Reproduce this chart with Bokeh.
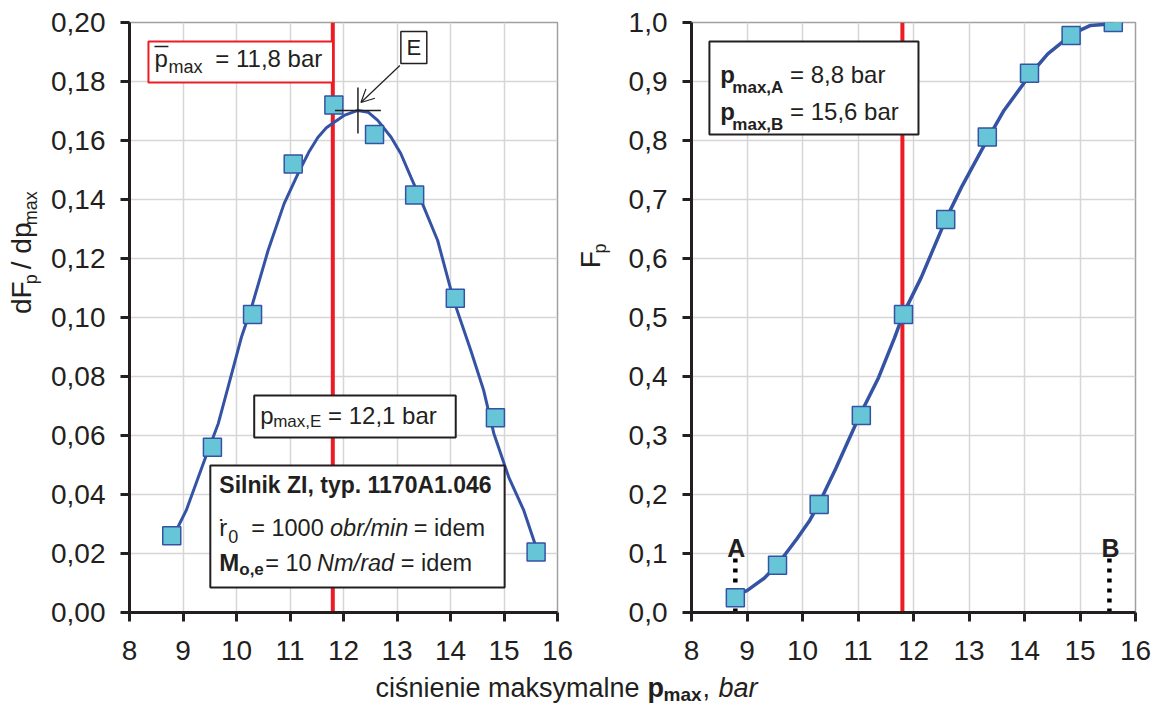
import math
from bokeh.plotting import figure
from bokeh.models import Range1d, FixedTicker, Label, Arrow, OpenHead
from bokeh.layouts import row, column
from bokeh.embed import file_html
from bokeh.resources import INLINE

# ---------------- data ----------------
p_max = [8.79, 9.55, 10.30, 11.06, 11.82, 12.58, 13.33, 14.09, 14.84, 15.60]
density = [0.026, 0.056, 0.101, 0.152, 0.172, 0.162, 0.1415, 0.1065, 0.066, 0.0205]
cumulative = [0.025, 0.080, 0.183, 0.334, 0.505, 0.666, 0.806, 0.914, 0.978, 1.000]

fit_density_x = [8.78, 9.06, 9.40, 9.66, 9.86, 9.96, 10.09, 10.28, 10.41, 10.59, 10.89,
                 11.15, 11.35, 11.52, 11.68, 11.82, 12.01, 12.27, 12.46, 12.64, 12.89, 13.07,
                 13.26, 13.45, 13.76, 14.06, 14.38, 14.62, 14.81, 15.09, 15.37, 15.59]
fit_density_y = [0.0244, 0.0346, 0.0515, 0.0641, 0.0776, 0.0844, 0.0932, 0.1034, 0.1115,
                 0.1227, 0.1386, 0.1488, 0.1560, 0.1610, 0.1643, 0.1661, 0.1685, 0.1702,
                 0.1696, 0.1668, 0.1611, 0.1556, 0.1476, 0.1397, 0.1261, 0.1058, 0.0888,
                 0.0753, 0.0607, 0.0458, 0.0346, 0.0227]

fit_cum_x = [8.79, 9.00, 9.31, 9.54, 9.90, 10.13, 10.30, 10.60, 11.03, 11.37, 11.66, 11.82,
             12.14, 12.59, 12.86, 13.35, 13.63, 14.12, 14.42, 14.87, 15.19, 15.60]
fit_cum_y = [0.029, 0.037, 0.058, 0.080, 0.125, 0.156, 0.185, 0.244, 0.334, 0.398, 0.466,
             0.507, 0.568, 0.668, 0.720, 0.805, 0.851, 0.914, 0.947, 0.981, 0.995, 0.998]

p_mean = 11.8              # mean pressure (red line)
E_x, E_y = 12.27, 0.1702   # maximum of the density curve (point E)
p_A, p_B = 8.79, 15.53     # limits A and B

x_ticks = [8, 9, 10, 11, 12, 13, 14, 15, 16]
x_tick_labels = ["8", "9", "10", "11", "12", "13", "14", "15", "16"]
y1_ticks = [0.0, 0.02, 0.04, 0.06, 0.08, 0.1, 0.12, 0.14, 0.16, 0.18, 0.2]
y1_tick_labels = ["0,00", "0,02", "0,04", "0,06", "0,08", "0,10", "0,12", "0,14",
                  "0,16", "0,18", "0,20"]
y2_ticks = [0.0, 0.1, 0.2, 0.3, 0.4, 0.5, 0.6, 0.7, 0.8, 0.9, 1.0]
y2_tick_labels = ["0,0", "0,1", "0,2", "0,3", "0,4", "0,5", "0,6", "0,7", "0,8", "0,9", "1,0"]

# ---------------- style ----------------
TXT = "#231f20"
RED = "#ed1c24"
BLUE = "#3553a4"
FILL = "#66c6d7"
GRID = "#d6d6d6"
FRAME = "#a0a0a0"
FONT = "Liberation Sans"
K = 0.37   # baseline correction (fraction of font size)

# page geometry (pixels)
L_LEFT, L_RIGHT = 128, 557
R_LEFT, R_RIGHT = 689, 1135
TOP, BOTTOM = 22, 612
H_MAIN = 672
XA0, XA1 = 0, 48        # left y-title strip
XL1 = 575               # end of left panel canvas
XB1 = 625               # end of right y-title strip
W_TOTAL = 1161


class Conv:
    def __init__(self, fx, fy):
        self.fx, self.fy = fx, fy


LEFTC = Conv(lambda px: 8 + (px - L_LEFT) * 8.0 / (L_RIGHT - L_LEFT),
             lambda py: (BOTTOM - py) * 0.2 / (BOTTOM - TOP))
RIGHTC = Conv(lambda px: 8 + (px - R_LEFT) * 8.0 / (R_RIGHT - R_LEFT),
              lambda py: (BOTTOM - py) * 1.0 / (BOTTOM - TOP))
PIX = Conv(lambda px: px, lambda py: py)


def lab(p, c, px, py, s, size, style="normal", align="left", rotated=False):
    """px, py: page pixel position of the text start / baseline."""
    if rotated:
        x, y, ang = px - K * size, py, math.pi / 2
    else:
        x, y, ang = px, py - K * size, 0.0
    p.add_layout(Label(x=c.fx(x), y=c.fy(y), text=s, text_font=FONT,
                       text_font_size=f"{size}px", text_font_style=style, text_color=TXT,
                       text_align=align, text_baseline="alphabetic", angle=ang))


def make_panel(width, border_left, border_right, y_end, yt, ytl):
    p = figure(width=width, height=H_MAIN, x_range=Range1d(8, 16), y_range=Range1d(0, y_end),
               output_backend="svg", toolbar_location=None,
               min_border_left=border_left, min_border_right=border_right,
               min_border_top=TOP, min_border_bottom=H_MAIN - BOTTOM)
    p.background_fill_color = "white"
    p.border_fill_color = "white"
    p.outline_line_color = FRAME
    p.outline_line_width = 1.5
    p.xaxis.ticker = FixedTicker(ticks=x_ticks)
    p.xaxis.major_label_overrides = dict(zip(x_ticks, x_tick_labels))
    p.yaxis.ticker = FixedTicker(ticks=yt)
    p.yaxis.major_label_overrides = dict(zip(yt, ytl))
    p.xgrid.ticker = FixedTicker(ticks=x_ticks)
    p.ygrid.ticker = FixedTicker(ticks=yt)
    for g in (p.xgrid, p.ygrid):
        g.grid_line_color = GRID
        g.grid_line_width = 1.5
    for ax in (p.xaxis, p.yaxis):
        ax.axis_line_color = TXT
        ax.axis_line_width = 3
        ax.major_tick_line_color = TXT
        ax.major_tick_line_width = 3
        ax.major_tick_in = 0
        ax.major_tick_out = 9
        ax.minor_tick_line_color = None
        ax.major_label_text_font = FONT
        ax.major_label_text_font_size = "28px"
        ax.major_label_text_color = TXT
    p.xaxis.major_label_standoff = 19
    p.yaxis.major_label_standoff = 15
    return p


def strip(x0, x1, height, y_top, y_bottom):
    f = figure(width=x1 - x0, height=height, x_range=Range1d(x0, x1),
               y_range=Range1d(y_bottom, y_top), output_backend="svg",
               toolbar_location=None, min_border=0, x_axis_type=None, y_axis_type=None)
    f.grid.visible = False
    f.outline_line_color = None
    f.background_fill_color = "white"
    f.border_fill_color = "white"
    return f


# ---------------- left panel: density ----------------
left = make_panel(XL1 - XA1, L_LEFT - XA1, XL1 - L_RIGHT, 0.2, y1_ticks, y1_tick_labels)
LX, LY = LEFTC.fx, LEFTC.fy
left.segment(x0=[p_mean], y0=[0], x1=[p_mean], y1=[0.2], line_color=RED, line_width=4)
left.line(fit_density_x, fit_density_y, line_color=BLUE, line_width=3)
left.scatter(p_max, density, marker="square", size=18, fill_color=FILL,
             line_color=BLUE, line_width=1.5)

# boxes
left.quad(left=[LX(147)], right=[LX(332)], top=[LY(41)], bottom=[LY(82)],
          fill_color="white", line_color=RED, line_width=2)
left.quad(left=[LX(400), LX(253), LX(209)], right=[LX(426), LX(455), LX(504)],
          top=[LY(31), LY(395), LY(465)], bottom=[LY(63), LY(437), LY(587)],
          fill_color="white", line_color=TXT, line_width=[1.5, 2, 2])

# E cross and arrow
hx = 23 * 8.0 / (L_RIGHT - L_LEFT)
hy = 23 * 0.2 / (BOTTOM - TOP)
left.segment(x0=[E_x - hx, E_x], y0=[E_y, E_y - hy], x1=[E_x + hx, E_x], y1=[E_y, E_y + hy],
             line_color=TXT, line_width=1.5)
left.add_layout(Arrow(end=OpenHead(size=13, line_width=1.2, line_color=TXT),
                      x_start=LX(399), y_start=LY(65), x_end=LX(360), y_end=LY(102),
                      line_width=1.2, line_color=TXT))
lab(left, LEFTC, 413, 55, "E", 22, align="center")

# mean label (p with overline)
lab(left, LEFTC, 153, 67, "p", 24)
left.segment(x0=[LX(153)], y0=[LY(46)], x1=[LX(167)], y1=[LY(46)], line_color=TXT,
             line_width=1.5)
lab(left, LEFTC, 167, 73, "max", 18)
lab(left, LEFTC, 214, 67, "= 11,8 bar", 24)

# p_max,E label
lab(left, LEFTC, 259, 424, "p", 24)
lab(left, LEFTC, 272, 427, "max,E", 17)
lab(left, LEFTC, 327, 424, "= 12,1 bar", 24)

# engine box
lab(left, LEFTC, 218, 493, "Silnik ZI, typ. 1170A1.046", 23, style="bold")
lab(left, LEFTC, 218, 536, "r", 24)
lab(left, LEFTC, 221, 536, "\u02d9", 24, align="center")
lab(left, LEFTC, 227, 543, "0", 18)
lab(left, LEFTC, 250, 536, "= 1000", 23.5)
lab(left, LEFTC, 329, 536, "obr/min", 23.5, style="italic")
lab(left, LEFTC, 413, 536, "= idem", 23.5)
lab(left, LEFTC, 218, 571, "M", 24, style="bold")
lab(left, LEFTC, 238, 575, "o,e", 17, style="bold")
lab(left, LEFTC, 264, 571, "= 10", 23.5)
lab(left, LEFTC, 316, 571, "Nm/rad", 23.5, style="italic")
lab(left, LEFTC, 400, 571, "= idem", 23.5)

# ---------------- left y title strip ----------------
ya = strip(XA0, XA1, H_MAIN, 0, H_MAIN)
lab(ya, PIX, 31, 332, "dF", 28, rotated=True)
lab(ya, PIX, 37, 298, "p", 18, rotated=True)
lab(ya, PIX, 31, 281, "/ dp", 28, rotated=True)
lab(ya, PIX, 37, 231, "max", 18, rotated=True)

# ---------------- right y title strip ----------------
yb = strip(XL1, XB1, H_MAIN, 0, H_MAIN)
lab(yb, PIX, 600, 280, "F", 28, rotated=True)
lab(yb, PIX, 606, 263, "p", 18, rotated=True)

# ---------------- right panel: cumulative ----------------
right = make_panel(W_TOTAL - XB1, R_LEFT - XB1, W_TOTAL - R_RIGHT, 1.0, y2_ticks, y2_tick_labels)
RX, RY = RIGHTC.fx, RIGHTC.fy
right.segment(x0=[p_mean], y0=[0], x1=[p_mean], y1=[1.0], line_color=RED, line_width=4)
right.segment(x0=[p_A, p_B], y0=[0, 0], x1=[p_A, p_B], y1=[RY(558), RY(558)],
              line_color="black", line_width=4.5, line_dash="4 6")
right.line(fit_cum_x, fit_cum_y, line_color=BLUE, line_width=3.5)
right.scatter(p_max, cumulative, marker="square", size=18, fill_color=FILL,
              line_color=BLUE, line_width=1.5)

right.quad(left=[RX(707)], right=[RX(917)], top=[RY(41)], bottom=[RY(134)],
           fill_color="white", line_color=TXT, line_width=2)
lab(right, RIGHTC, 718, 83, "p", 24, style="bold")
lab(right, RIGHTC, 730, 93, "max,A", 17, style="bold")
lab(right, RIGHTC, 788, 83, "= 8,8 bar", 24)
lab(right, RIGHTC, 718, 120, "p", 24, style="bold")
lab(right, RIGHTC, 730, 130, "max,B", 17, style="bold")
lab(right, RIGHTC, 788, 120, "= 15,6 bar", 24)

lab(right, RIGHTC, 734, 557, "A", 25, style="bold", align="center")
lab(right, RIGHTC, 1110, 557, "B", 25, style="bold", align="center")

# ---------------- common x axis title ----------------
bot = strip(0, W_TOTAL, 717 - H_MAIN, H_MAIN, 717)
lab(bot, PIX, 375, 697, "ciśnienie maksymalne", 27)
lab(bot, PIX, 647, 697, "p", 27, style="bold")
lab(bot, PIX, 663, 701, "max", 19, style="bold")
lab(bot, PIX, 702, 697, ",", 27)
lab(bot, PIX, 718, 697, "bar", 27, style="italic")

layout = column(row(ya, left, yb, right), bot)
open("out.html", "w").write(file_html(layout, INLINE))
